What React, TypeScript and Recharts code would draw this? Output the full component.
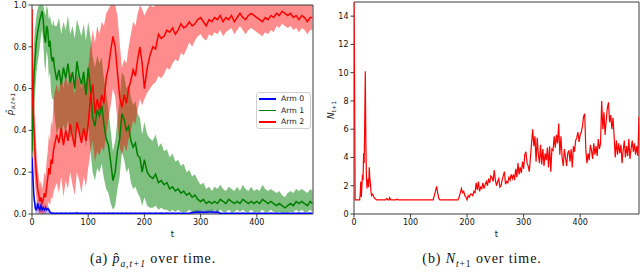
import React from "react";
import {
  ComposedChart,
  Line,
  Area,
  XAxis,
  YAxis,
  ReferenceArea,
  Legend,
} from "recharts";

// ---------- Left panel: estimated probabilities per arm ----------
const T = [
  0, 1, 2, 3, 4, 5, 6, 7, 8, 9, 10,
  12, 14, 16, 18, 20, 22, 24, 26, 28, 30, 32, 34, 36, 38, 40,
  44, 48, 52, 56, 60, 64, 68, 72, 76, 80, 84, 88, 92, 96, 100,
  104, 108, 112, 116, 120, 124, 128, 132, 136, 140, 144, 148, 152, 156, 160, 164, 168, 172, 176, 180, 184, 188, 192, 196, 200,
  205, 210, 215, 220, 225, 230, 235, 240, 245, 250, 255, 260, 265, 270, 275, 280, 285, 290, 295, 300,
  305, 310, 315, 320, 325, 330, 335, 340, 345, 350, 355, 360, 365, 370, 375, 380, 385, 390, 395, 400,
  405, 410, 415, 420, 425, 430, 435, 440, 445, 450, 455, 460, 465, 470, 475, 480, 485, 490, 495, 499,
];

const ARM0 = [
  0.27, 0.22, 0.16, 0.1, 0.07, 0.05, 0.03, 0.02, 0.02, 0.03, 0.05,
  0.03, 0.02, 0.04, 0.02, 0.03, 0.02, 0.03, 0.02, 0.025, 0.02, 0.008, 0.005, 0.004, 0.004, 0.003,
  0.004, 0.003, 0.004, 0.003, 0.004, 0.003, 0.004, 0.003, 0.003, 0.005, 0.003, 0.004, 0.003, 0.004, 0.003,
  0.004, 0.003, 0.004, 0.003, 0.004, 0.003, 0.004, 0.003, 0.004, 0.003, 0.004, 0.003, 0.004, 0.003, 0.004, 0.003, 0.004, 0.003, 0.004, 0.003, 0.004, 0.003, 0.004, 0.003, 0.004,
  0.003, 0.004, 0.003, 0.004, 0.003, 0.004, 0.003, 0.004, 0.003, 0.004, 0.003, 0.004, 0.003, 0.004, 0.003, 0.004, 0.006, 0.008, 0.009, 0.008,
  0.009, 0.008, 0.009, 0.01, 0.008, 0.009, 0.004, 0.003, 0.004, 0.003, 0.004, 0.003, 0.004, 0.003, 0.004, 0.003, 0.004, 0.003, 0.004, 0.003,
  0.004, 0.003, 0.004, 0.003, 0.004, 0.003, 0.004, 0.003, 0.004, 0.003, 0.004, 0.003, 0.004, 0.003, 0.004, 0.003, 0.004, 0.003, 0.004, 0.003,
];
const ARM0_LO = [
  0.24, 0.18, 0.12, 0.06, 0.03, 0.02, 0.01, 0, 0, 0, 0.01,
  0, 0, 0.01, 0, 0, 0, 0, 0, 0, 0, 0, 0, 0, 0, 0,
  0, 0, 0, 0, 0, 0, 0, 0, 0, 0, 0, 0, 0, 0, 0,
  0, 0, 0, 0, 0, 0, 0, 0, 0, 0, 0, 0, 0, 0, 0, 0, 0, 0, 0, 0, 0, 0, 0, 0, 0,
  0, 0, 0, 0, 0, 0, 0, 0, 0, 0, 0, 0, 0, 0, 0, 0, 0, 0, 0, 0,
  0, 0, 0, 0, 0, 0, 0, 0, 0, 0, 0, 0, 0, 0, 0, 0, 0, 0, 0, 0,
  0, 0, 0, 0, 0, 0, 0, 0, 0, 0, 0, 0, 0, 0, 0, 0, 0, 0, 0, 0,
];
const ARM0_HI = [
  0.3, 0.25, 0.2, 0.14, 0.1, 0.08, 0.06, 0.05, 0.05, 0.06, 0.07,
  0.06, 0.05, 0.06, 0.05, 0.05, 0.04, 0.05, 0.04, 0.04, 0.035, 0.02, 0.012, 0.01, 0.01, 0.008,
  0.01, 0.008, 0.01, 0.008, 0.01, 0.008, 0.01, 0.008, 0.008, 0.012, 0.008, 0.01, 0.008, 0.01, 0.008,
  0.01, 0.008, 0.01, 0.008, 0.01, 0.008, 0.01, 0.008, 0.01, 0.008, 0.01, 0.008, 0.01, 0.008, 0.01, 0.008, 0.01, 0.008, 0.01, 0.008, 0.01, 0.008, 0.01, 0.008, 0.01,
  0.008, 0.01, 0.008, 0.01, 0.008, 0.01, 0.008, 0.01, 0.008, 0.01, 0.008, 0.01, 0.008, 0.01, 0.008, 0.01, 0.014, 0.018, 0.02, 0.018,
  0.02, 0.018, 0.02, 0.022, 0.018, 0.02, 0.01, 0.008, 0.01, 0.008, 0.01, 0.008, 0.01, 0.008, 0.01, 0.008, 0.01, 0.008, 0.01, 0.008,
  0.01, 0.008, 0.01, 0.008, 0.01, 0.008, 0.01, 0.008, 0.01, 0.008, 0.01, 0.008, 0.01, 0.008, 0.01, 0.008, 0.01, 0.008, 0.01, 0.008,
];

const ARM1 = [
  0.3, 0.45, 0.55, 0.62, 0.68, 0.72, 0.76, 0.8, 0.83, 0.85, 0.87,
  0.9, 0.93, 0.95, 0.97, 0.93, 0.85, 0.82, 0.9, 0.88, 0.8, 0.83, 0.76, 0.73, 0.75, 0.7,
  0.64, 0.69, 0.62, 0.7, 0.65, 0.72, 0.63, 0.68, 0.6, 0.73, 0.66, 0.62, 0.68, 0.57, 0.7,
  0.6, 0.46, 0.42, 0.5, 0.47, 0.52, 0.43, 0.36, 0.33, 0.25, 0.16, 0.2, 0.3, 0.36, 0.48, 0.45, 0.4, 0.42, 0.35, 0.32, 0.34, 0.28, 0.27, 0.2, 0.26,
  0.2, 0.18, 0.17, 0.19, 0.15, 0.16, 0.14, 0.15, 0.12, 0.13, 0.11, 0.12, 0.1, 0.11, 0.09, 0.1, 0.08, 0.09, 0.07, 0.06,
  0.07, 0.05, 0.06, 0.05, 0.06, 0.05, 0.07, 0.06, 0.05, 0.07, 0.06, 0.05, 0.06, 0.05, 0.07, 0.06, 0.05, 0.06, 0.05, 0.06,
  0.05, 0.07, 0.06, 0.05, 0.06, 0.05, 0.04, 0.05, 0.04, 0.03, 0.04, 0.05, 0.04, 0.06, 0.05, 0.06, 0.05, 0.04, 0.06, 0.05,
];
const ARM1_LO = [
  0.25, 0.3, 0.38, 0.45, 0.5, 0.55, 0.6, 0.64, 0.68, 0.7, 0.72,
  0.76, 0.8, 0.85, 0.88, 0.82, 0.72, 0.68, 0.78, 0.75, 0.65, 0.68, 0.58, 0.55, 0.55, 0.48,
  0.38, 0.42, 0.35, 0.43, 0.38, 0.45, 0.36, 0.4, 0.33, 0.44, 0.39, 0.35, 0.41, 0.32, 0.42,
  0.3, 0.2, 0.16, 0.22, 0.2, 0.24, 0.17, 0.12, 0.1, 0.05, 0.02, 0.04, 0.12, 0.18, 0.3, 0.26, 0.2, 0.22, 0.15, 0.12, 0.13, 0.1, 0.08, 0.04, 0.08,
  0.04, 0.03, 0.03, 0.04, 0.02, 0.03, 0.02, 0.02, 0.01, 0.02, 0.01, 0.02, 0.01, 0.01, 0.01, 0.02, 0.01, 0.01, 0.01, 0.01,
  0.02, 0.01, 0.01, 0.01, 0.02, 0.01, 0.02, 0.01, 0.01, 0.02, 0.01, 0.01, 0.02, 0.01, 0.02, 0.01, 0.01, 0.02, 0.01, 0.01,
  0.01, 0.02, 0.01, 0.01, 0.02, 0.01, 0.01, 0.01, 0.01, 0.005, 0.01, 0.01, 0.01, 0.02, 0.01, 0.02, 0.01, 0.01, 0.02, 0.01,
];
const ARM1_HI = [
  0.35, 0.6, 0.7, 0.78, 0.84, 0.88, 0.9, 0.93, 0.95, 0.97, 0.98,
  1, 1, 1, 1, 1, 0.97, 0.95, 1, 0.98, 0.93, 0.95, 0.92, 0.9, 0.93, 0.9,
  0.9, 0.94, 0.86, 0.92, 0.88, 0.95, 0.86, 0.9, 0.84, 0.93, 0.89, 0.85, 0.91, 0.83, 0.92,
  0.85, 0.75, 0.7, 0.76, 0.72, 0.75, 0.65, 0.58, 0.5, 0.4, 0.3, 0.35, 0.45, 0.55, 0.68, 0.66, 0.6, 0.62, 0.56, 0.52, 0.54, 0.48, 0.46, 0.38, 0.44,
  0.38, 0.36, 0.35, 0.38, 0.32, 0.34, 0.3, 0.31, 0.27, 0.29, 0.25, 0.26, 0.23, 0.24, 0.2, 0.21, 0.18, 0.19, 0.16, 0.14,
  0.15, 0.12, 0.13, 0.11, 0.13, 0.12, 0.14, 0.12, 0.11, 0.13, 0.12, 0.11, 0.13, 0.11, 0.14, 0.12, 0.11, 0.13, 0.11, 0.12,
  0.11, 0.14, 0.12, 0.11, 0.12, 0.11, 0.1, 0.11, 0.09, 0.08, 0.1, 0.11, 0.1, 0.12, 0.11, 0.12, 0.11, 0.1, 0.12, 0.11,
];

const ARM2 = [
  0.98, 0.55, 0.5, 0.44, 0.38, 0.32, 0.26, 0.22, 0.18, 0.15, 0.12,
  0.09, 0.06, 0.08, 0.05, 0.07, 0.1, 0.08, 0.13, 0.17, 0.22, 0.19, 0.26, 0.24, 0.3, 0.33,
  0.38, 0.34, 0.41, 0.33, 0.4, 0.35, 0.43, 0.37, 0.32, 0.44, 0.39, 0.34, 0.41, 0.35, 0.43,
  0.56, 0.62, 0.48, 0.55, 0.5, 0.57, 0.53, 0.65, 0.7, 0.78, 0.85, 0.8, 0.68, 0.56, 0.51, 0.57, 0.53, 0.6, 0.64, 0.69, 0.66, 0.74, 0.8, 0.72, 0.6,
  0.7, 0.76, 0.8, 0.79, 0.86, 0.84, 0.85, 0.88, 0.87, 0.89, 0.86, 0.88, 0.91, 0.89, 0.9, 0.92, 0.9, 0.91, 0.93, 0.94,
  0.92, 0.9, 0.93, 0.92, 0.94, 0.93, 0.95, 0.92, 0.94, 0.93, 0.95, 0.92, 0.94, 0.96, 0.94, 0.93, 0.95, 0.96, 0.95, 0.94,
  0.93, 0.92, 0.94, 0.93, 0.95, 0.94, 0.96, 0.95, 0.97, 0.96, 0.95, 0.96, 0.94, 0.95, 0.93, 0.95, 0.94, 0.92, 0.94, 0.94,
];
const ARM2_LO = [
  0.95, 0.35, 0.3, 0.25, 0.2, 0.16, 0.12, 0.1, 0.07, 0.05, 0.03,
  0.01, 0, 0, 0, 0, 0.01, 0, 0.02, 0.04, 0.06, 0.04, 0.08, 0.07, 0.1, 0.12,
  0.15, 0.1, 0.18, 0.08, 0.16, 0.12, 0.2, 0.14, 0.09, 0.2, 0.16, 0.1, 0.18, 0.13, 0.22,
  0.3, 0.35, 0.25, 0.3, 0.28, 0.32, 0.3, 0.38, 0.45, 0.52, 0.6, 0.56, 0.45, 0.32, 0.28, 0.33, 0.3, 0.36, 0.4, 0.45, 0.43, 0.5, 0.55, 0.52, 0.55,
  0.58, 0.6, 0.62, 0.63, 0.66, 0.65, 0.67, 0.7, 0.69, 0.72, 0.74, 0.73, 0.77, 0.76, 0.79, 0.82, 0.8, 0.83, 0.85, 0.86,
  0.84, 0.83, 0.86, 0.85, 0.87, 0.86, 0.88, 0.85, 0.87, 0.88, 0.89, 0.86, 0.88, 0.9, 0.88, 0.86, 0.88, 0.89, 0.88, 0.87,
  0.86, 0.85, 0.87, 0.86, 0.88, 0.87, 0.9, 0.89, 0.91, 0.9, 0.89, 0.9, 0.88, 0.89, 0.87, 0.89, 0.88, 0.86, 0.88, 0.88,
];
const ARM2_HI = [
  1, 0.75, 0.7, 0.62, 0.55, 0.48, 0.42, 0.36, 0.3, 0.26, 0.22,
  0.18, 0.14, 0.16, 0.12, 0.15, 0.2, 0.18, 0.25, 0.3, 0.38, 0.35, 0.45, 0.42, 0.52, 0.58,
  0.62, 0.58, 0.66, 0.6, 0.67, 0.61, 0.68, 0.63, 0.57, 0.67, 0.64, 0.6, 0.66, 0.62, 0.7,
  0.8, 0.88, 0.82, 0.9, 0.86, 0.92, 0.9, 0.96, 0.98, 1, 1, 1, 0.95, 0.82, 0.7, 0.74, 0.72, 0.8, 0.86, 0.92, 0.9, 0.96, 1, 0.98, 0.95,
  0.98, 1, 0.99, 1, 1, 1, 1, 1, 1, 1, 1, 1, 1, 1, 1, 1, 1, 1, 1, 1,
  1, 1, 1, 1, 1, 1, 1, 1, 1, 1, 1, 1, 1, 1, 1, 1, 1, 1, 1, 1,
  1, 1, 1, 1, 1, 1, 1, 1, 1, 1, 1, 1, 1, 1, 1, 1, 1, 1, 1, 1,
];

const LEFT_Y_TICKS = [0, 0.2, 0.4, 0.6, 0.8, 1.0];
const LEFT_X_TICKS = [0, 100, 200, 300, 400];
const ARM_NAMES = ["Arm 0", "Arm 1", "Arm 2"];
const ARM_COLORS = ["#0000ff", "#008000", "#ff0000"];

// ---------- Right panel: N_{t+1} ----------
const NT = [
  0, 1, 2, 10, 11, 12, 13, 14, 15, 16, 17, 18, 19, 20, 21, 22, 23, 24, 25, 26, 27, 28, 29, 30, 31, 33, 35, 37, 40,
  56, 58, 60, 62, 63, 65, 74, 76, 78, 140, 142, 144, 146, 148, 150, 152, 184, 186, 188, 190, 192, 194, 196, 198, 200,
  202, 204, 206, 208, 210, 212, 214, 216, 218, 220,
  222, 224, 226, 228, 230, 232, 234, 236, 238, 240,
  242, 244, 246, 248, 250, 252, 254, 256, 258, 260,
  262, 264, 266, 268, 270, 272, 274, 276, 278, 280,
  282, 284, 286, 288, 290, 292, 294, 296, 298, 300,
  302, 304, 306, 308, 310, 312, 314, 316, 318, 320,
  322, 324, 326, 328, 330, 332, 334, 336, 338, 340,
  342, 344, 346, 348, 350, 352, 354, 356, 358, 360,
  362, 364, 366, 368, 370, 372, 374, 376, 378, 380,
  382, 384, 386, 388, 390, 392, 394, 396, 398, 400,
  402, 404, 406, 408, 410, 412, 414, 416, 418, 420,
  422, 424, 426, 428, 430, 432, 434, 436, 438, 440,
  442, 444, 446, 448, 450, 452, 454, 456, 458, 460,
  462, 464, 466, 468, 470, 472, 474, 476, 478, 480,
  482, 484, 486, 488, 490, 492, 494, 496, 498, 500,
  502, 504,
];
const NV = [
  15, 9, 1, 1, 1.4, 2.3, 1.2, 2.0, 2.8, 2.4, 4.3, 3.6, 6.5, 10.1, 5, 2.6, 1.8, 2.2, 2.5, 1.9, 3.3, 2.5, 2.2, 1.6, 1.3, 1.4, 1.2, 1.1, 1.0,
  1.0, 1.1, 1.0, 1.0, 1.15, 1.0, 1.0, 1.05, 1.0, 1.0, 1.3, 1.6, 1.95, 1.5, 1.1, 1.0, 1.0, 1.2, 1.5, 1.8, 1.5, 1.6, 1.3, 1.2, 1.0,
  1.3, 1.2, 1.4, 1.4, 1.3, 1.6, 1.5, 2.2, 1.7, 2.3,
  1.6, 1.9, 1.8, 2.2, 1.8, 2.1, 2.3, 2.0, 2.5, 2.2,
  2.7, 2.6, 2.3, 3.1, 2.4, 2.0, 2.3, 2.5, 1.9, 2.0,
  2.4, 2.7, 3.0, 2.1, 2.3, 2.2, 2.6, 2.4, 2.8, 2.5,
  2.8, 2.4, 3.2, 2.6, 3.6, 2.8, 3.3, 2.9, 3.7, 3.2,
  4.2, 4.4, 3.6, 3.4, 3.0, 4.0, 5.0, 6.0, 4.8, 5.5,
  3.7, 5.4, 4.2, 3.6, 4.9, 3.5, 4.6, 3.4, 4.3, 3.8,
  4.7, 3.3, 4.8, 3.0, 4.6, 4.5, 5.5, 4.7, 5.6, 5.0,
  6.4, 4.2, 5.5, 4.0, 3.4, 4.6, 4.0, 3.4, 4.3, 4.5,
  3.7, 4.6, 3.3, 4.8, 4.4, 5.2, 5.4, 5.8, 5.1, 5.6,
  5.8, 6.2, 6.9, 7.1, 4.5, 3.6, 4.3, 3.8, 4.9, 4.5,
  3.9, 5.0, 4.2, 4.8, 4.1, 5.3, 4.6, 5.0, 8.0, 6.0,
  7.2, 5.6, 6.6, 7.5, 7.9, 6.5, 7.0, 6.0, 6.8, 5.5,
  4.0, 5.2, 4.2, 5.0, 4.3, 4.9, 3.6, 4.5, 5.2, 4.0,
  4.8, 4.1, 5.3, 3.9, 4.6, 5.2, 4.4, 5.0, 4.2, 4.8,
  4.1, 6.9,
];
const RIGHT_Y_TICKS = [0, 2, 4, 6, 8, 10, 12, 14];
const RIGHT_X_TICKS = [0, 100, 200, 300, 400];

const leftData = T.map((t, i) => ({
  t,
  a0: ARM0[i],
  a1: ARM1[i],
  a2: ARM2[i],
  b0: [ARM0_LO[i], ARM0_HI[i]],
  b1: [ARM1_LO[i], ARM1_HI[i]],
  b2: [ARM2_LO[i], ARM2_HI[i]],
}));
const rightData = NT.map((t, i) => ({ t, n: NV[i] }));

const FONT = "'DejaVu Sans', sans-serif";
const tickStyle = { fontSize: 8, fill: "#111", fontFamily: FONT };
const AXIS_COLOR = "#3a3a3a";

const LegendBox = () => (
  <div
    style={{
      border: "1px solid #d0d0d0",
      borderRadius: 3,
      background: "rgba(255,255,255,0.85)",
      padding: "0px 3px 0px 2px",
      fontFamily: FONT,
      fontSize: 7.7,
      color: "#222",
      width: 48,
      boxSizing: "content-box",
      whiteSpace: "nowrap",
    }}
  >
    {ARM_NAMES.map((name, i) => (
      <div
        key={name}
        style={{ display: "flex", alignItems: "center", height: 11.6, lineHeight: "11.6px", whiteSpace: "nowrap" }}
      >
        <span
          style={{
            display: "inline-block",
            flex: "0 0 17px",
            width: 17,
            height: 1.5,
            background: ARM_COLORS[i],
            marginRight: 5,
          }}
        />
        <span style={{ whiteSpace: "nowrap" }}>{name}</span>
      </div>
    ))}
  </div>
);

const LeftYLabel = () => (
  <text
    transform="translate(13,104) rotate(-90)"
    textAnchor="middle"
    fontFamily={FONT}
    fill="#222"
    fontSize={9}
  >
    <tspan fontStyle="italic">{"p\u0302"}</tspan>
    <tspan fontStyle="italic" fontSize={6} dy={2}>
      a,t+1
    </tspan>
  </text>
);

const RightYLabel = () => (
  <text
    transform="translate(14,110) rotate(-90)"
    textAnchor="middle"
    fontFamily={FONT}
    fill="#222"
    fontSize={9}
  >
    <tspan fontStyle="italic">N</tspan>
    <tspan fontSize={6} dy={2}>
      t+1
    </tspan>
  </text>
);

const XLabel = (props: any) => {
  const vb = props.viewBox || {};
  return (
    <text
      x={vb.x + vb.width / 2}
      y={237}
      textAnchor="middle"
      fontFamily={FONT}
      fill="#222"
      fontSize={8.5}
    >
      t
    </text>
  );
};

const captionStyle: React.CSSProperties = {
  position: "absolute",
  top: 251,
  fontFamily: "'Liberation Serif', serif",
  fontSize: 14,
  letterSpacing: 0.9,
  color: "#111",
  whiteSpace: "nowrap",
  transform: "translateX(-50%)",
};

export default function App() {
  return (
    <div
      style={{
        position: "absolute",
        left: 0,
        top: 0,
        width: 640,
        height: 272,
        background: "#fff",
        overflow: "hidden",
      }}
    >
      <div style={{ position: "absolute", left: 0, top: 0 }}>
        <ComposedChart
          width={314}
          height={246}
          data={leftData}
          margin={{ top: 5, right: 1, bottom: 2, left: 0 }}
        >
          <XAxis
            dataKey="t"
            type="number"
            domain={[0, 500]}
            ticks={LEFT_X_TICKS}
            height={30}
            tickSize={3.5}
            tickMargin={1.5}
            axisLine={false}
            tickLine={{ stroke: AXIS_COLOR }}
            tick={tickStyle}
            allowDataOverflow
            label={<XLabel />}
          />
          <YAxis
            type="number"
            domain={[0, 1]}
            ticks={LEFT_Y_TICKS}
            width={32}
            tickSize={3.5}
            tickMargin={2}
            axisLine={false}
            tickLine={{ stroke: AXIS_COLOR }}
            tick={tickStyle}
            tickFormatter={(v: number) => v.toFixed(1)}
            allowDataOverflow
            label={<LeftYLabel />}
          />
          <Area
            dataKey="b0"
            stroke="none"
            fill="#0000ff"
            fillOpacity={0.3}
            isAnimationActive={false}
            dot={false}
            activeDot={false}
            legendType="none"
          />
          <Area
            dataKey="b1"
            stroke="none"
            fill="#008000"
            fillOpacity={0.5}
            isAnimationActive={false}
            dot={false}
            activeDot={false}
            legendType="none"
          />
          <Area
            dataKey="b2"
            stroke="none"
            fill="#ff0000"
            fillOpacity={0.45}
            isAnimationActive={false}
            dot={false}
            activeDot={false}
            legendType="none"
          />
          <Line
            dataKey="a0"
            name={ARM_NAMES[0]}
            stroke={ARM_COLORS[0]}
            strokeWidth={1.5}
            dot={false}
            isAnimationActive={false}
          />
          <Line
            dataKey="a1"
            name={ARM_NAMES[1]}
            stroke={ARM_COLORS[1]}
            strokeWidth={1.5}
            dot={false}
            isAnimationActive={false}
          />
          <Line
            dataKey="a2"
            name={ARM_NAMES[2]}
            stroke={ARM_COLORS[2]}
            strokeWidth={1.5}
            dot={false}
            isAnimationActive={false}
          />
          <ReferenceArea
            x1={0}
            x2={500}
            y1={0}
            y2={1}
            fill="none"
            stroke={AXIS_COLOR}
            strokeWidth={1}
            ifOverflow="visible"
          />
          <Legend
            layout="horizontal"
            verticalAlign="middle"
            align="center"
            content={() => <LegendBox />}
            wrapperStyle={{ position: "absolute", left: 256, top: 92, width: 60 }}
          />
        </ComposedChart>
      </div>

      <div style={{ position: "absolute", left: 320, top: 0 }}>
        <ComposedChart
          width={320}
          height={246}
          data={rightData}
          margin={{ top: 2, right: 1, bottom: 2, left: 0 }}
        >
          <XAxis
            dataKey="t"
            type="number"
            domain={[0, 504]}
            ticks={RIGHT_X_TICKS}
            height={30}
            tickSize={3.5}
            tickMargin={1.5}
            axisLine={false}
            tickLine={{ stroke: AXIS_COLOR }}
            tick={tickStyle}
            allowDataOverflow
            label={<XLabel />}
          />
          <YAxis
            type="number"
            domain={[0, 15]}
            ticks={RIGHT_Y_TICKS}
            width={34}
            tickSize={3.5}
            tickMargin={2}
            axisLine={false}
            tickLine={{ stroke: AXIS_COLOR }}
            tick={tickStyle}
            allowDataOverflow
            label={<RightYLabel />}
          />
          <Line
            dataKey="n"
            stroke="#ff0000"
            strokeWidth={1.2}
            dot={false}
            isAnimationActive={false}
          />
          <ReferenceArea
            x1={0}
            x2={504}
            y1={0}
            y2={15}
            fill="none"
            stroke={AXIS_COLOR}
            strokeWidth={1}
            ifOverflow="visible"
          />
        </ComposedChart>
      </div>

      <div style={{ ...captionStyle, left: 153 }}>
        (a) <i>{"p\u0302"}</i>
        <sub style={{ fontSize: 9.5, fontStyle: "italic" }}>a,t+1</sub> over time.
      </div>
      <div style={{ ...captionStyle, left: 482 }}>
        (b) <i>N</i>
        <sub style={{ fontSize: 9.5 }}>
          <i>t</i>+1
        </sub>{" "}
        over time.
      </div>
    </div>
  );
}
